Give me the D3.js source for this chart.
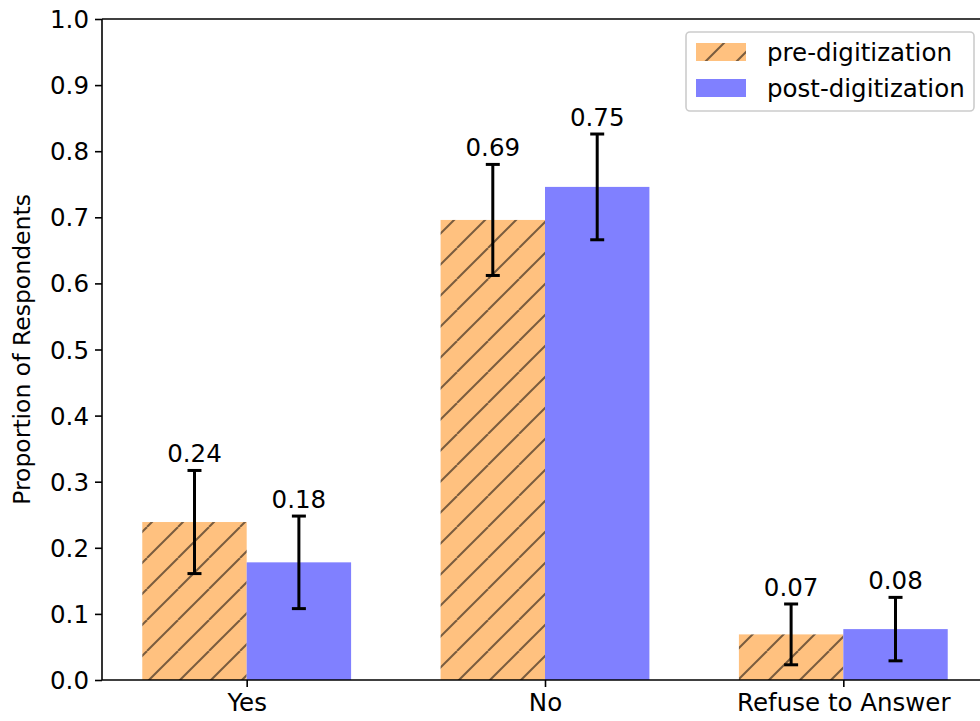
<!DOCTYPE html>
<html><head><meta charset="utf-8">
<script src="https://cdn.jsdelivr.net/npm/d3@7"></script>
<style>body{margin:0;background:#fff}svg{display:block}text{font-family:"DejaVu Sans",sans-serif}</style>
</head><body>
<script>
const categories = ["Yes", "No", "Refuse to Answer"];
const seriesNames = ["pre-digitization", "post-digitization"];
const preValues = [0.239, 0.696, 0.069];
const postValues = [0.178, 0.746, 0.077];
const preErr = [0.078, 0.084, 0.046];
const postErr = [0.070, 0.080, 0.048];
const preLabels = ["0.24", "0.69", "0.07"];
const postLabels = ["0.18", "0.75", "0.08"];
const yTicks = [0,0.1,0.2,0.3,0.4,0.5,0.6,0.7,0.8,0.9,1.0];

const W = 980, H = 721;
const m = {left: 102, top: 19, bottom: 680};
const FS = 24.5;
const svg = d3.select("body").append("svg").attr("width", W).attr("height", H);

const barW = 0.35;
const x = d3.scaleLinear().domain([-0.485, 2.485]).range([m.left, 988]);
const y = d3.scaleLinear().domain([0, 1]).range([m.bottom, m.top]);

const defs = svg.append("defs");
const pat = defs.append("pattern").attr("id", "hatch").attr("patternUnits", "userSpaceOnUse")
  .attr("width", 31).attr("height", 31).attr("patternTransform", "translate(23,0)");
pat.append("rect").attr("width", 31).attr("height", 31).attr("fill", "#ffc17f");
[[-31,31,0,0],[0,31,31,0],[31,31,62,0]].forEach(s=>{
  pat.append("line").attr("x1", s[0]).attr("y1", s[1]).attr("x2", s[2]).attr("y2", s[3])
    .attr("stroke", "#7a5c3e").attr("stroke-width", 2);
});

const series = [
  {vals: preValues, err: preErr, labels: preLabels, off: -barW/2, fill: "url(#hatch)"},
  {vals: postValues, err: postErr, labels: postLabels, off: barW/2, fill: "#8080ff"}
];

series.forEach(s => {
  const g = svg.append("g");
  categories.forEach((c, i) => {
    const cx = i + s.off;
    g.append("rect").attr("x", x(cx - barW/2)).attr("width", x(cx + barW/2) - x(cx - barW/2))
      .attr("y", y(s.vals[i])).attr("height", y(0) - y(s.vals[i])).attr("fill", s.fill);
  });
});

// error bars and labels
series.forEach(s => {
  categories.forEach((c, i) => {
    const px = x(i + s.off);
    const hi = y(s.vals[i] + s.err[i]), lo = y(s.vals[i] - s.err[i]);
    svg.append("line").attr("x1", px).attr("x2", px).attr("y1", hi).attr("y2", lo)
      .attr("stroke", "#000").attr("stroke-width", 3);
    [hi, lo].forEach(yy => svg.append("line").attr("x1", px - 7).attr("x2", px + 7)
      .attr("y1", yy).attr("y2", yy).attr("stroke", "#000").attr("stroke-width", 3));
    svg.append("text").attr("x", px).attr("y", hi - 8).attr("text-anchor", "middle")
      .attr("font-size", FS).attr("fill", "#000").text(s.labels[i]);
  });
});

// axes
const yAxis = d3.axisLeft(y).tickValues(yTicks).tickFormat(d3.format(".1f")).tickSize(7).tickPadding(6);
const gy = svg.append("g").attr("transform", `translate(${m.left},0)`).call(yAxis);
gy.select(".domain").attr("stroke-width", 1.6).attr("d", `M0,${m.bottom}V${m.top}`);
gy.selectAll(".tick line").attr("stroke-width", 1.6);
gy.selectAll(".tick text").attr("font-size", FS).attr("font-family", "DejaVu Sans").attr("dy", "0.35em");

const xAxis = d3.axisBottom(x).tickValues([0,1,2]).tickFormat(i => categories[i]).tickSize(7).tickPadding(6);
const gx = svg.append("g").attr("transform", `translate(0,${m.bottom})`).call(xAxis);
gx.select(".domain").attr("stroke-width", 1.6).attr("d", `M${m.left},0H988`);
gx.selectAll(".tick line").attr("stroke-width", 1.6);
gx.selectAll(".tick text").attr("font-size", FS).attr("font-family", "DejaVu Sans").attr("dy", "0.72em");

svg.append("line").attr("x1", m.left).attr("x2", 988).attr("y1", m.top).attr("y2", m.top)
  .attr("stroke", "#000").attr("stroke-width", 1.6);

svg.append("text").attr("transform", `translate(30,${(m.top + m.bottom)/2}) rotate(-90)`)
  .attr("text-anchor", "middle").attr("font-size", 23.5).text("Proportion of Respondents");

// legend
const lg = svg.append("g");
lg.append("rect").attr("x", 686).attr("y", 32).attr("width", 288).attr("height", 79).attr("rx", 4)
  .attr("fill", "#fff").attr("fill-opacity", 0.8).attr("stroke", "#ccc").attr("stroke-width", 1.6);
const legFills = ["url(#hatch)", "#8080ff"];
seriesNames.forEach((n, k) => {
  const yy = 43 + k * 36;
  lg.append("rect").attr("x", 696).attr("y", yy).attr("width", 50).attr("height", 18).attr("fill", legFills[k]);
  lg.append("text").attr("x", 767).attr("y", yy + 9).attr("dy", "0.35em").attr("font-size", FS).text(n);
});
</script>
</body></html>
